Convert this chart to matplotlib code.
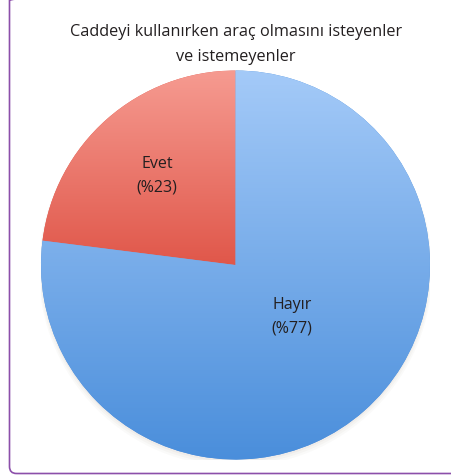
import matplotlib
matplotlib.use("Agg")
import matplotlib.pyplot as plt
import numpy as np
from matplotlib.patches import FancyBboxPatch, Circle
from matplotlib.colors import LinearSegmentedColormap

# Data
labels = ["Evet", "Hayır"]
shares = [23, 77]
title_lines = ["Caddeyi kullanırken araç olmasını isteyenler", "ve istemeyenler"]

# Gradient colours (top -> bottom) per slice
grad_top = ["#F69B91", "#A4CAF8"]
grad_bottom = ["#E0574A", "#4A8EDB"]
label_pos = [(-0.404, 0.463), (0.290, -0.262)]

plt.rcParams["font.family"] = ["Open Sans", "DejaVu Sans"]

W, H = 452, 477
fig = plt.figure(figsize=(W / 100, H / 100), dpi=100)
fig.patch.set_facecolor("white")

# Rounded frame on the left and bottom
frame = FancyBboxPatch((9.5, 2.5), 480, 480, boxstyle="round,pad=0,rounding_size=7",
                       transform=None, facecolor="none", edgecolor="#8C4FAA",
                       linewidth=1.2)
fig.patches.append(frame)

for line, ypx in zip(title_lines, [32, 57]):
    fig.text(236 / W, 1 - ypx / H, line, ha="center", va="center", fontsize=11.7,
             color="#231F20")

cx, cy, r = 235.5, H - 266, 194.5
ax = fig.add_axes([(cx - r) / W, (cy - r) / H, 2 * r / W, 2 * r / H])
ax.set_xlim(-1, 1)
ax.set_ylim(-1, 1)
ax.axis("off")

# soft shadow under the pie
for i, a in enumerate([0.05, 0.04, 0.03]):
    ax.add_patch(Circle((0, -0.012 - 0.006 * i), 1.0 + 0.006 * i,
                        facecolor="#7a6a50", edgecolor="none", alpha=a, zorder=0))

wedges, _ = ax.pie(shares, startangle=90, counterclock=True, radius=1,
                   wedgeprops=dict(linewidth=0, edgecolor="none"))

ramp = np.linspace(0, 1, 256).reshape(-1, 1)
for w, c0, c1, lab, s, pos in zip(wedges, grad_top, grad_bottom, labels, shares, label_pos):
    w.set_facecolor(c1)
    w.set_zorder(1)
    # vertical gradient spanning the slice's own height
    verts = w.get_path().vertices
    y0, y1 = verts[:, 1].min(), verts[:, 1].max()
    cmap = LinearSegmentedColormap.from_list("g", [c0, c1])
    img = ax.imshow(ramp, cmap=cmap, extent=(-1, 1, y0, y1), aspect="auto",
                    origin="upper", zorder=2, interpolation="bilinear")
    img.set_clip_path(w)
    ax.text(pos[0], pos[1], f"{lab}\n(%{s})", ha="center", va="center",
            fontsize=11.5, color="#231F20", linespacing=1.62, zorder=3)

ax.set_xlim(-1, 1)
ax.set_ylim(-1, 1)

fig.savefig("out.png", dpi=100)
